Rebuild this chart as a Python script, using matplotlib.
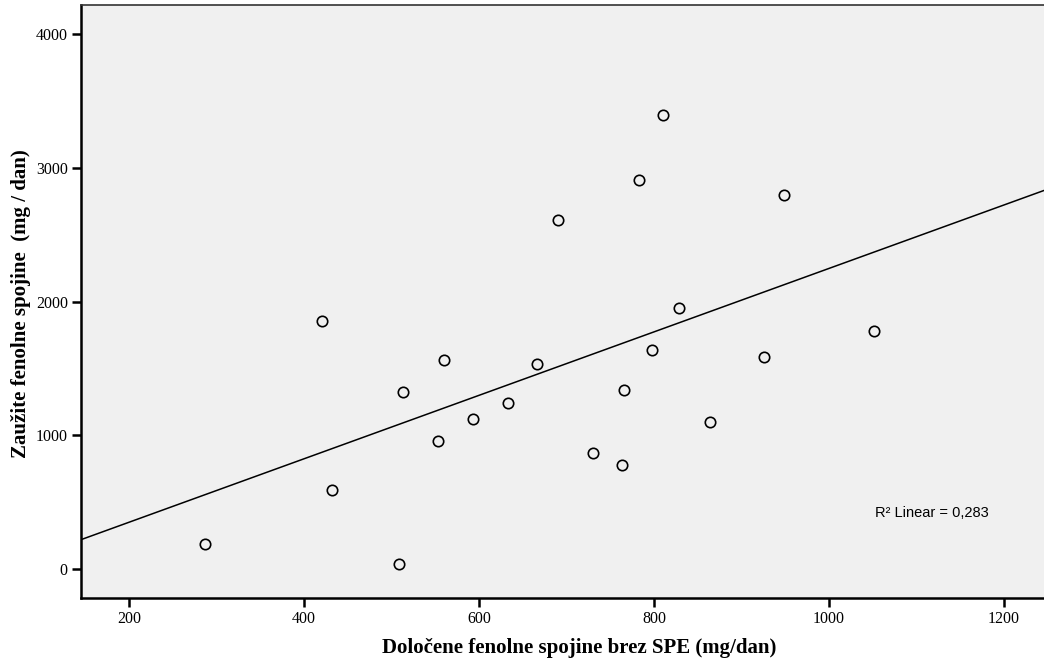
import numpy as np
import matplotlib
matplotlib.use("Agg")
import matplotlib.pyplot as plt

# values (mg/dan)
spe_free = [287, 432, 508, 420, 560, 666, 513, 633, 593, 553, 829, 798,
            766, 730, 763, 810, 783, 690, 949, 1052, 926, 864]
intake = [183, 589, 35, 1855, 1559, 1534, 1324, 1242, 1120, 955, 1948, 1636,
          1337, 863, 776, 3392, 2908, 2606, 2796, 1780, 1584, 1100]

x_ticks = [200, 400, 600, 800, 1000, 1200]
y_ticks = [0, 1000, 2000, 3000, 4000]
r2_label = "R² Linear = 0,283"

serif = "Liberation Serif"

fig = plt.figure(figsize=(10.44, 6.62), dpi=100)
ax = fig.add_axes([81 / 1044, 64 / 662, 1 - 81 / 1044, 593 / 662])
ax.set_facecolor("#f0f0f0")

xlim = (145, 1246)
ax.set_xlim(*xlim)
ax.set_ylim(-218, 4218)

# linear fit line across the whole axis
slope, intercept = np.polyfit(spe_free, intake, 1)
xs = np.array(xlim)
ax.plot(xs, slope * xs + intercept, color="black", linewidth=1.1, zorder=2)

ax.plot(spe_free, intake, linestyle="none", marker="o", markersize=7.5,
        markerfacecolor="none", markeredgecolor="black", markeredgewidth=1.2, zorder=3)

ax.set_xticks(x_ticks)
ax.set_yticks(y_ticks)
ax.tick_params(direction="out", length=6.5, width=1.8, color="black", labelsize=11.5, pad=3)
for lbl in ax.get_xticklabels() + ax.get_yticklabels():
    lbl.set_fontfamily(serif)

for side in ["left", "bottom"]:
    ax.spines[side].set_linewidth(1.8)
ax.spines["top"].set_linewidth(1.2)
ax.spines["top"].set_color("#333333")
ax.spines["right"].set_visible(False)

# R2 annotation, placed in pixel-like axes fractions
ax.text((875 - 81) / 963, (598 - 513) / 593, r2_label, fontsize=10.5,
        family="Liberation Sans", va="center", ha="left", transform=ax.transAxes)

fig.text(579 / 1044, 1 - 648 / 662, "Določene fenolne spojine brez SPE (mg/dan)",
         family=serif, fontweight="bold", fontsize=15, ha="center", va="center")
fig.text(21 / 1044, 1 - 304 / 662, "Zaužite fenolne spojine  (mg / dan)",
         family=serif, fontweight="bold", fontsize=15, ha="center", va="center",
         rotation=90)

fig.savefig("out.png", dpi=100)
